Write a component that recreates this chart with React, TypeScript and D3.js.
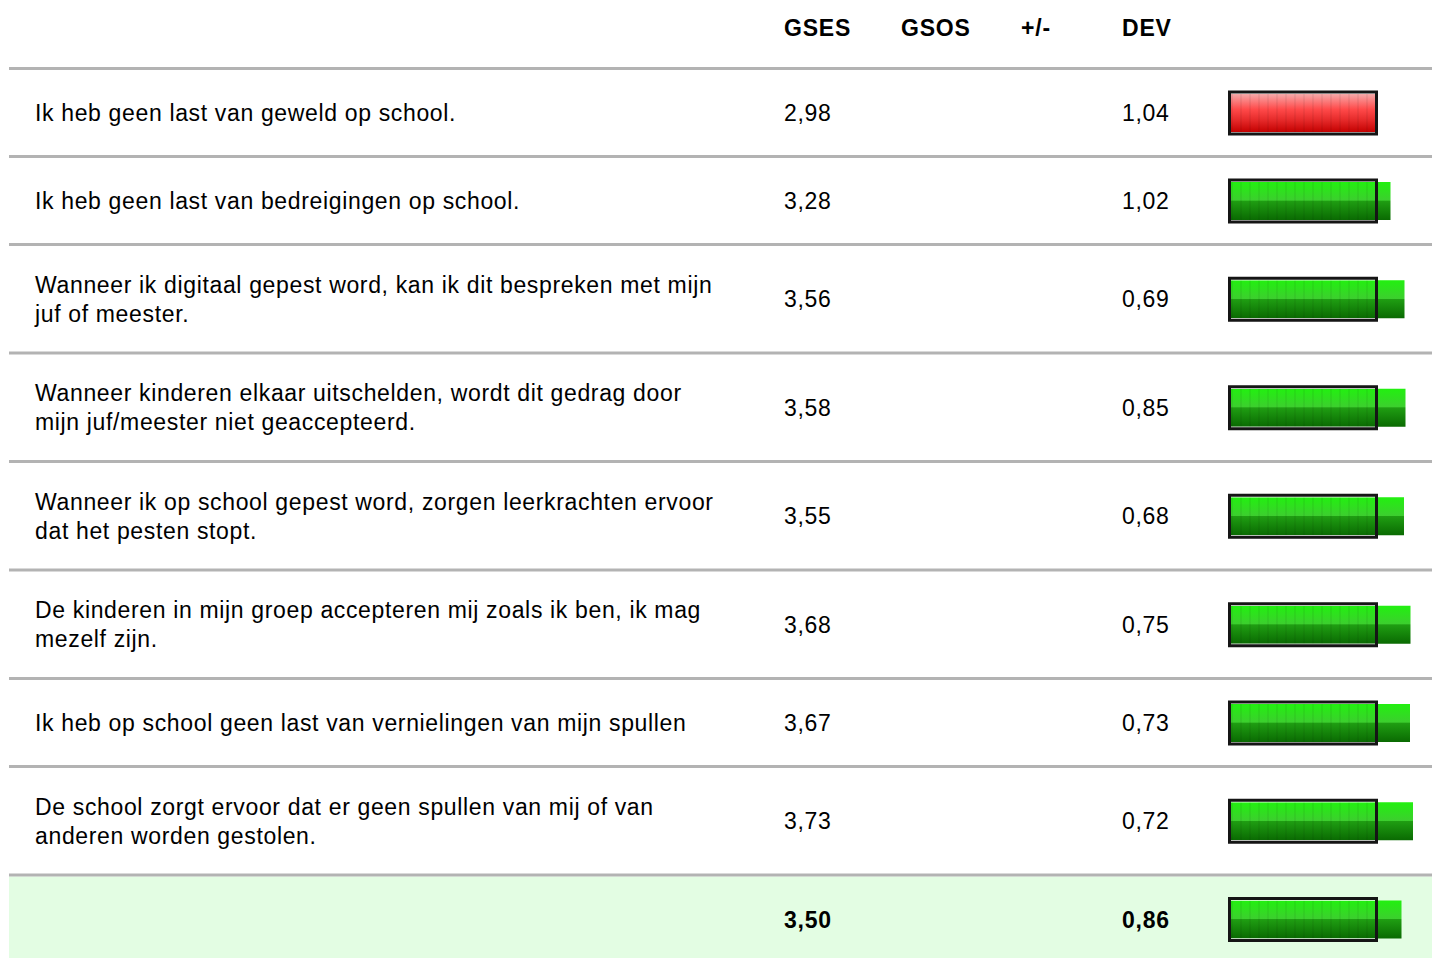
import React, { useEffect } from "react";
import * as d3 from "d3";

// questions (line breaks as in the report)
const questions: string[][] = [
  ["Ik heb geen last van geweld op school."],
  ["Ik heb geen last van bedreigingen op school."],
  ["Wanneer ik digitaal gepest word, kan ik dit bespreken met mijn", "juf of meester."],
  ["Wanneer kinderen elkaar uitschelden, wordt dit gedrag door", "mijn juf/meester niet geaccepteerd."],
  ["Wanneer ik op school gepest word, zorgen leerkrachten ervoor", "dat het pesten stopt."],
  ["De kinderen in mijn groep accepteren mij zoals ik ben, ik mag", "mezelf zijn."],
  ["Ik heb op school geen last van vernielingen van mijn spullen"],
  ["De school zorgt ervoor dat er geen spullen van mij of van", "anderen worden gestolen."],
];
const gses = [2.98, 3.28, 3.56, 3.58, 3.55, 3.68, 3.67, 3.73];
const dev = [1.04, 1.02, 0.69, 0.85, 0.68, 0.75, 0.73, 0.72];
const totalGses = 3.5;
const totalDev = 0.86;
const headers = ["GSES", "GSOS", "+/-", "DEV"];
const threshold = 3;

const W = 1432;
const H = 958;
const FONT = "'Liberation Sans', Arial, Helvetica, sans-serif";
const FS = 23;
const LS = 0.65; // the report's renderer spaces glyphs a bit wider
const LSB = 0.8;
const fmt = (v: number) => v.toFixed(2).replace(".", ",");

export default function App() {
  useEffect(() => {
    document.body.style.margin = "0";
  }, []);

  const x = d3.scaleLinear().domain([0, 4]).range([1226.5, 1426.5]);
  const headerX = [784, 901, 1021, 1122];

  // row layout
  const lineTop0 = 67;
  const heights = questions.map((q) => (q.length === 1 ? 88 : 108.5));
  const tops: number[] = [];
  let acc = lineTop0;
  heights.forEach((h) => {
    tops.push(acc);
    acc += h;
  });
  const summaryTop = acc;
  const centers = tops.map((t, i) => t + 3 + (heights[i] - 3) / 2 + 0.5);
  const summaryCenter = summaryTop + 3 + 42.5 + 0.5;

  const bar = (v: number, cy: number, key: string) => {
    const good = v >= threshold;
    const x0 = x(0) + 4.5;
    const x1 = x(v);
    const boxEnd = x(threshold);
    return (
      <g key={key}>
        <rect x={x0} y={cy - 19} width={x1 - x0} height={38} fill={good ? "url(#gGreen)" : "url(#gRed)"} />
        <rect x={x0} y={cy - 19} width={Math.min(x1, boxEnd - 1.5) - x0} height={38} fill="url(#stripes)" />
        <rect x={x0 - 0.5} y={cy - 19.5} width={boxEnd - 1.5 - x0 + 1} height={39} fill="none" stroke="#fff" strokeWidth={1} />
        <rect x={x(0) + 3} y={cy - 21} width={boxEnd - x(0) - 3} height={42} fill="none" stroke="#151515" strokeWidth={3} />
      </g>
    );
  };

  return (
    <svg width={W} height={H} style={{ display: "block", fontFamily: FONT }}>
      <defs>
        <linearGradient id="gGreen" x1="0" y1="0" x2="0" y2="1">
          <stop offset="0%" stopColor="#22f010" />
          <stop offset="48%" stopColor="#3ccf2e" />
          <stop offset="50%" stopColor="#1f9e12" />
          <stop offset="100%" stopColor="#0a6a02" />
        </linearGradient>
        <linearGradient id="gRed" x1="0" y1="0" x2="0" y2="1">
          <stop offset="0%" stopColor="#f4aaaa" />
          <stop offset="15%" stopColor="#fa8585" />
          <stop offset="40%" stopColor="#ff4a4a" />
          <stop offset="70%" stopColor="#e42828" />
          <stop offset="100%" stopColor="#c40000" />
        </linearGradient>
        <pattern id="stripes" width={9} height={10} patternUnits="userSpaceOnUse" x={x(0) + 4.5}>
          <rect x={0} y={0} width={2} height={10} fill="#000" opacity={0.05} />
        </pattern>
      </defs>
      <rect x={0} y={0} width={W} height={H} fill="#fff" />

      {headers.map((h, i) => (
        <text key={h} x={headerX[i]} y={28} dy="0.35em" fontSize={FS} fontWeight="bold" letterSpacing={LSB} fill="#000">
          {h}
        </text>
      ))}

      <rect x={9} y={summaryTop + 3} width={W - 9} height={H - summaryTop} fill="#e3fde3" />

      {[...tops, summaryTop].map((t, i) => (
        <rect key={"l" + i} x={9} y={t} width={W - 9} height={3} fill="#b3b3b3" />
      ))}

      {questions.map((q, i) => {
        const cy = centers[i];
        return (
          <g key={"r" + i}>
            {q.map((line, j) => (
              <text key={j} x={35} y={cy + (j - (q.length - 1) / 2) * 29} dy="0.35em" fontSize={FS} letterSpacing={LS} fill="#000">
                {line}
              </text>
            ))}
            <text x={784} y={cy} dy="0.35em" fontSize={FS} letterSpacing={LS} fill="#000">
              {fmt(gses[i])}
            </text>
            <text x={1122} y={cy} dy="0.35em" fontSize={FS} letterSpacing={LS} fill="#000">
              {fmt(dev[i])}
            </text>
            {bar(gses[i], cy, "b" + i)}
          </g>
        );
      })}

      <text x={784} y={summaryCenter} dy="0.35em" fontSize={FS} fontWeight="bold" letterSpacing={LSB} fill="#000">
        {fmt(totalGses)}
      </text>
      <text x={1122} y={summaryCenter} dy="0.35em" fontSize={FS} fontWeight="bold" letterSpacing={LSB} fill="#000">
        {fmt(totalDev)}
      </text>
      {bar(totalGses, summaryCenter, "bt")}
    </svg>
  );
}
